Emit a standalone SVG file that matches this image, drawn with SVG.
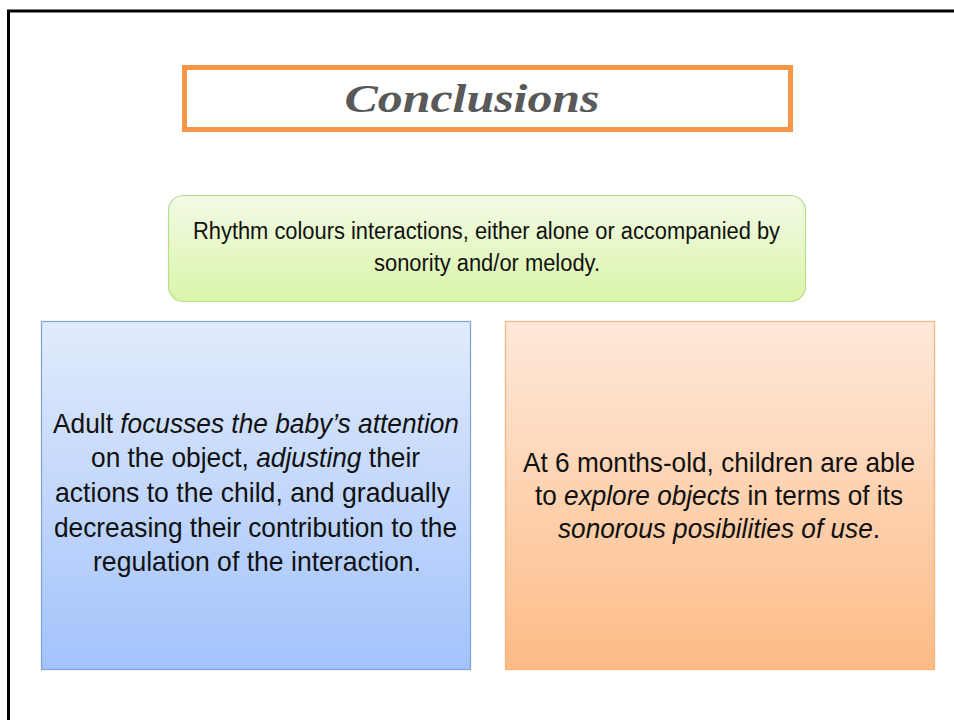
<svg xmlns="http://www.w3.org/2000/svg" width="954" height="720" viewBox="0 0 954 720">
  <defs>
    <linearGradient id="gGreen" x1="0" y1="0" x2="0" y2="1">
      <stop offset="0" stop-color="#F2FAE6"/>
      <stop offset="1" stop-color="#DAF5A8"/>
    </linearGradient>
    <linearGradient id="gBlue" x1="0" y1="0" x2="0" y2="1">
      <stop offset="0" stop-color="#E1EBFB"/>
      <stop offset="1" stop-color="#A3C3FC"/>
    </linearGradient>
    <linearGradient id="gOrange" x1="0" y1="0" x2="0" y2="1">
      <stop offset="0" stop-color="#FEE9DA"/>
      <stop offset="1" stop-color="#FDBB86"/>
    </linearGradient>
  </defs>
  <style>
    .body { font-family: "Liberation Sans Narrow", "Liberation Sans", Arial, sans-serif; fill: #111; text-anchor: middle; }
    .it { font-style: italic; }
  </style>

  <rect x="0" y="0" width="954" height="720" fill="#FFFFFF"/>

  <!-- page frame -->
  <path d="M8.5 720 V11 H954" fill="none" stroke="#000" stroke-width="3"/>

  <!-- title -->
  <g id="title">
    <rect x="184.5" y="67.5" width="606" height="62" fill="#FFFFFF" stroke="#F79646" stroke-width="5"/>
    <text x="472" y="112" font-family="'Liberation Serif', 'DejaVu Serif', serif" font-size="40" font-weight="bold" font-style="italic" fill="#595959" text-anchor="middle" textLength="255" lengthAdjust="spacingAndGlyphs">Conclusions</text>
  </g>

  <!-- summary -->
  <g id="summary">
    <rect x="168.5" y="195.5" width="637" height="106" rx="15" fill="url(#gGreen)" stroke="#B9DC8F" stroke-width="1.2"/>
    <text class="body" x="486.5" y="239" font-size="23.5" textLength="587" lengthAdjust="spacingAndGlyphs">Rhythm colours interactions, either alone or accompanied by</text>
    <text class="body" x="487" y="271" font-size="23.5" textLength="226" lengthAdjust="spacingAndGlyphs">sonority and/or melody.</text>
  </g>

  <!-- adult -->
  <g id="adult">
    <rect x="41.5" y="321.5" width="429" height="348" fill="url(#gBlue)" stroke="#7FA3DE" stroke-width="1.2"/>
    <text class="body" x="256" y="433" font-size="28" textLength="406" lengthAdjust="spacingAndGlyphs">Adult <tspan class="it">focusses the baby’s attention</tspan></text>
    <text class="body" x="255.5" y="467" font-size="28" textLength="329" lengthAdjust="spacingAndGlyphs">on the object, <tspan class="it">adjusting</tspan> their</text>
    <text class="body" x="252.5" y="502" font-size="28" textLength="395" lengthAdjust="spacingAndGlyphs">actions to the child, and gradually</text>
    <text class="body" x="255.5" y="537" font-size="28" textLength="403" lengthAdjust="spacingAndGlyphs">decreasing their contribution to the</text>
    <text class="body" x="257" y="571" font-size="28" textLength="328" lengthAdjust="spacingAndGlyphs">regulation of the interaction.</text>
  </g>

  <!-- child -->
  <g id="child">
    <rect x="505.5" y="321.5" width="429" height="348" fill="url(#gOrange)" stroke="#FBB27A" stroke-width="1.2"/>
    <text class="body" x="719" y="472" font-size="28" textLength="392" lengthAdjust="spacingAndGlyphs">At 6 months-old, children are able</text>
    <text class="body" x="719" y="505" font-size="28" textLength="368" lengthAdjust="spacingAndGlyphs">to <tspan class="it">explore objects</tspan> in terms of its</text>
    <text class="body" x="719" y="538" font-size="28" textLength="322" lengthAdjust="spacingAndGlyphs"><tspan class="it">sonorous posibilities of use</tspan>.</text>
  </g>

  <g id="connectors"/>
</svg>
